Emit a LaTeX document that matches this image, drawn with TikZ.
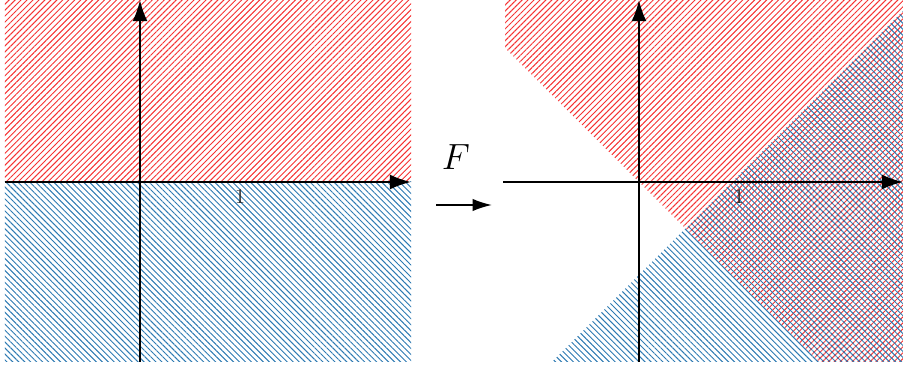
\documentclass[tikz,border=0pt]{standalone}
\usepackage{amsmath}
\usepackage{tikz}
\usetikzlibrary{arrows.meta,patterns.meta,calc,positioning}
\definecolor{hatchred}{RGB}{245,50,50}
\definecolor{hatchblue}{RGB}{45,122,178}
\tikzset{
  axis/.style={black,line width=1.2pt,-{Latex[length=12pt,width=8.5pt]}},
  maparrow/.style={black,line width=0.9pt,-{Latex[length=11pt,width=7pt]}},
  redhatch/.style={pattern={Lines[angle=45,distance=2.4pt,line width=0.55pt]},pattern color=hatchred},
  bluehatch/.style={pattern={Lines[angle=-45,distance=2.4pt,line width=0.55pt]},pattern color=hatchblue},
  ticklab/.style={font=\large,text=black!85,inner sep=1pt},
}
\begin{document}
\begin{tikzpicture}[x=2cm,y=2cm]
  \path[use as bounding box] (-1.40,-1.85) rectangle (7.63,1.82);

  % left plane
  \path[redhatch] (-1.35,0) rectangle (2.71,1.82);
  \path[bluehatch] (-1.35,-1.80) rectangle (2.71,0);
  \coordinate (LW) at (-1.35,0);
  \coordinate (LE) at (2.71,0);
  \coordinate (LS) at (0,-1.80);
  \coordinate (LN) at (0,1.82);
  \draw[axis] (LW) -- (LE);
  \draw[axis] (LS) -- (LN);
  \node[ticklab,below=3pt] (L1) at (1,0) {1};

  % the map
  \node[font=\huge] (Flab) at (3.16,0.25) {$F$};
  \coordinate (Fa) at (2.96,-0.23);
  \coordinate (Fb) at (3.52,-0.23);
  \draw[maparrow] (Fa) -- (Fb);

  % right plane, origin at (4.99,0)
  \begin{scope}[shift={(4.99,0)}]
    \path[redhatch] (-1.34,1.82) -- (2.64,1.82) -- (2.64,-1.80) -- (1.80,-1.80) -- (-1.34,1.34) -- cycle;
    \path[bluehatch] (-0.87,-1.80) -- (2.64,1.71) -- (2.64,-1.80) -- cycle;
    \coordinate (RW) at (-1.36,0);
    \coordinate (RE) at (2.64,0);
    \coordinate (RS) at (0,-1.80);
    \coordinate (RN) at (0,1.82);
    \draw[axis] (RW) -- (RE);
    \draw[axis] (RS) -- (RN);
    \node[ticklab,below=3pt] (R1) at (1,0) {1};
  \end{scope}
\end{tikzpicture}
\end{document}
